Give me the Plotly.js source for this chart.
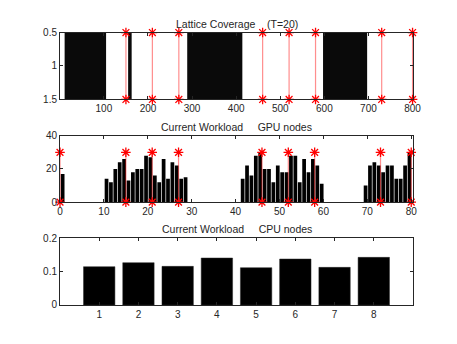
<!DOCTYPE html>
<html>
<head>
<meta charset="utf-8">
<script src="https://cdn.plot.ly/plotly-3.0.1.min.js"></script>
<style>
  body { margin: 0; background: #fff; }
  #chart { width: 457px; height: 344px; }
</style>
</head>
<body>
<div id="chart"></div>
<script>
// lattice coverage: covered stretches of the lattice (start, end)
const coverageStart = [11, 155, 289, 597];
const coverageEnd = [105, 163, 414, 697];
const latticeMarks = [150, 210, 270, 460, 520, 580, 730, 800];

// GPU workload per node (nodes 1..80)
const gpuLoad = [
  17, 0, 0, 0, 0, 0, 0, 0, 0, 0,
  14, 12, 20, 24, 26, 13, 18, 20, 20, 28,
  27, 16, 12, 26, 14, 24, 22, 14, 15, 0,
  0, 0, 0, 0, 0, 0, 0, 0, 0, 0,
  0, 14, 22, 16, 28, 30, 20, 20, 12, 22,
  18, 18, 28, 28, 12, 26, 18, 26, 22, 11,
  0, 0, 0, 0, 0, 0, 0, 0, 0, 10,
  22, 24, 22, 18, 22, 22, 14, 14, 22, 30
];
const gpuMarks = [0, 15, 21, 27, 46, 52, 58, 73, 80];
const gpuMarkTop = 30;

// CPU workload per node
const cpuNodes = [1, 2, 3, 4, 5, 6, 7, 8];
const cpuLoad = [0.115, 0.127, 0.116, 0.141, 0.112, 0.138, 0.113, 0.143];

const ink = '#262626';
const font = 'Liberation Sans, Arial, sans-serif';

function axisStyle(extra) {
  return Object.assign({
    showline: true, linecolor: ink, linewidth: 1, mirror: 'ticks',
    ticks: 'inside', ticklen: 3, tickcolor: ink, tickwidth: 1,
    tickfont: { size: 10, color: ink, family: font },
    zeroline: false, showgrid: false, fixedrange: true
  }, extra);
}

// vertical marker segments: x positions -> [x,x,null,...]
function segments(xs, lo, hi) {
  const x = [], y = [];
  xs.forEach(v => { x.push(v, v, null); y.push(lo, hi, null); });
  return { x, y };
}

function markTrace(xs, lo, hi, xa, ya) {
  const s = segments(xs, lo, hi);
  return {
    type: 'scatter', mode: 'lines+markers', x: s.x, y: s.y,
    xaxis: xa, yaxis: ya, cliponaxis: false, hoverinfo: 'skip',
    line: { color: 'rgba(255,30,30,0.5)', width: 1.2 },
    marker: { symbol: 'asterisk-open', size: 8, color: 'red', line: { color: 'red', width: 1.3 } }
  };
}

const coverCenters = coverageStart.map((s, i) => (s + coverageEnd[i]) / 2);
const coverWidths = coverageStart.map((s, i) => coverageEnd[i] - s);
const gpuX = gpuLoad.map((v, i) => i + 0.6);

const data = [
  {
    type: 'bar', x: coverCenters, y: coverCenters.map(() => 1), base: 0.5,
    width: coverWidths, marker: { color: '#0a0a0a', line: { width: 0 } },
    xaxis: 'x', yaxis: 'y', hoverinfo: 'skip'
  },
  markTrace(latticeMarks, 0.5, 1.5, 'x', 'y'),
  {
    type: 'bar', x: gpuX, y: gpuLoad, width: 0.85,
    marker: { color: '#000', line: { width: 0 } },
    xaxis: 'x2', yaxis: 'y2', hoverinfo: 'skip'
  },
  markTrace(gpuMarks, 0, gpuMarkTop, 'x2', 'y2'),
  {
    type: 'bar', x: cpuNodes, y: cpuLoad, width: 0.8,
    marker: { color: '#000', line: { color: ink, width: 0.5 } },
    xaxis: 'x3', yaxis: 'y3', hoverinfo: 'skip'
  }
];

function title(text, y) {
  return {
    text: text, xref: 'paper', yref: 'paper', x: 0.5, y: y,
    xanchor: 'center', yanchor: 'bottom', showarrow: false, yshift: 1,
    font: { size: 10.5, color: ink, family: font }
  };
}

const layout = {
  width: 457, height: 344,
  margin: { l: 60, r: 44, t: 32, b: 39, pad: 0 },
  paper_bgcolor: '#fff', plot_bgcolor: '#fff',
  showlegend: false,
  font: { family: font, size: 10, color: ink },
  xaxis: axisStyle({ domain: [0, 1], anchor: 'y', range: [0.5, 801], tickvals: [100, 200, 300, 400, 500, 600, 700, 800] }),
  yaxis: axisStyle({ domain: [0.753, 0.998], anchor: 'x', range: [1.5, 0.5], tickvals: [0.5, 1, 1.5], ticktext: ['0.5', '1', '1.5'] }),
  xaxis2: axisStyle({ domain: [0, 1], anchor: 'y2', range: [0, 80.4], tickvals: [0, 10, 20, 30, 40, 50, 60, 70, 80] }),
  yaxis2: axisStyle({ domain: [0.377, 0.620], anchor: 'x2', range: [0, 40], tickvals: [0, 20, 40] }),
  xaxis3: axisStyle({ domain: [0, 1], anchor: 'y3', range: [0, 9], tickvals: cpuNodes }),
  yaxis3: axisStyle({ domain: [0, 0.244], anchor: 'x3', range: [0, 0.2], tickvals: [0, 0.1, 0.2], ticktext: ['0', '0.1', '0.2'] }),
  annotations: [
    title('Lattice Coverage\u00a0\u00a0\u00a0\u00a0(T=20)', 0.998),
    title('Current Workload\u00a0\u00a0\u00a0\u00a0\u00a0GPU nodes', 0.620),
    title('Current Workload\u00a0\u00a0\u00a0\u00a0\u00a0CPU nodes', 0.244)
  ]
};

Plotly.newPlot('chart', data, layout, { displayModeBar: false, staticPlot: true });
</script>
</body>
</html>
